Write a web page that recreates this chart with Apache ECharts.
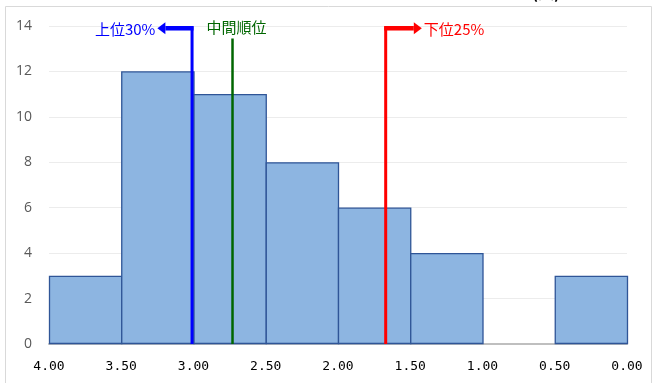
<!DOCTYPE html>
<html><head><meta charset="utf-8">
<script src="https://cdn.jsdelivr.net/npm/echarts@6/dist/echarts.min.js"></script>
<style>html,body{margin:0;padding:0;background:#fff}#c{width:663px;height:383px}</style>
</head><body><div id="c"></div>
<script>
// Histogram bins (score ranges) and counts
var binStart = [4.0, 3.5, 3.0, 2.5, 2.0, 1.5, 1.0, 0.5];
var binEnd   = [3.5, 3.0, 2.5, 2.0, 1.5, 1.0, 0.5, 0.0];
var counts   = [3, 12, 11, 8, 6, 4, 0, 3];
var xTicks = [4.0, 3.5, 3.0, 2.5, 2.0, 1.5, 1.0, 0.5, 0.0];
var yTicks = [0, 2, 4, 6, 8, 10, 12, 14];
// Reference markers: [name, x position, top y, arrow end x (or null)]
var markerNames = ['上位30%', '中間順位', '下位25%'];
var markerX     = [3.01, 2.73, 1.67];
var markerTop   = [13.9, 13.45, 13.9];
var markerArrow = [3.25, null, 1.42];
var markerColor = ['#0000ff', '#006600', '#ff0000'];

var chart = echarts.init(document.getElementById('c'), null, {renderer: 'canvas'});
var barData = binStart.map(function (s, i) { return [s, binEnd[i], counts[i]]; });
var markData = markerX.map(function (x, i) { return [x, markerTop[i], markerArrow[i] == null ? x : markerArrow[i], i]; });

chart.setOption({
  animation: false,
  graphic: [
    {type: 'rect', shape: {x: 5.5, y: 6.5, width: 646, height: 420}, style: {fill: 'none', stroke: '#d9d9d9', lineWidth: 1}, z: -1},
    {type: 'text', left: 532, top: -15, style: {text: '(人)', font: 'bold 16px "Noto Sans CJK JP"', fill: '#000'}}
  ],
  grid: {left: 49, right: 36, top: 26, bottom: 39},
  xAxis: {
    type: 'value', min: 0, max: 4, interval: 0.5, inverse: true,
    axisLine: {show: true, onZero: false, lineStyle: {color: '#bfbfbf', width: 2}},
    axisTick: {show: false},
    splitLine: {show: false},
    axisLabel: {
      margin: 16, color: '#000', fontFamily: '"DejaVu Sans Mono"', fontSize: 13,
      formatter: function (v) { return v.toFixed(2); }
    }
  },
  yAxis: {
    type: 'value', min: 0, max: 14, interval: 2,
    axisLine: {show: false}, axisTick: {show: false},
    splitLine: {lineStyle: {color: '#ececec', width: 1}},
    axisLabel: {margin: 17, color: '#595959', fontFamily: '"Open Sans"', fontSize: 14}
  },
  series: [
    {
      type: 'custom', data: barData, z: 2,
      renderItem: function (params, api) {
        if (api.value(2) <= 0) return null;
        var p0 = api.coord([api.value(0), 0]);
        var p1 = api.coord([api.value(1), api.value(2)]);
        var x = Math.min(p0[0], p1[0]), w = Math.abs(p1[0] - p0[0]);
        return {type: 'rect', shape: {x: x + 0.5, y: p1[1] + 0.5, width: w, height: p0[1] - p1[1] - 1},
          style: {fill: '#8db5e1', stroke: '#2f5597', lineWidth: 1.3}};
      }
    },
    {
      type: 'custom', data: markData, z: 5,
      renderItem: function (params, api) {
        var i = api.value(3);
        var col = markerColor[i];
        var b = api.coord([api.value(0), 0]);
        var t = api.coord([api.value(0), api.value(1)]);
        var e = api.coord([api.value(2), api.value(1)]);
        var children = [];
        if (markerArrow[i] == null) {
          children.push({type: 'line', shape: {x1: b[0], y1: b[1], x2: t[0], y2: t[1]}, style: {stroke: col, lineWidth: 2.5}});
          children.push({type: 'text', style: {x: b[0] + 4, y: t[1] - 4, text: markerNames[i], fill: col,
            font: '15px "Noto Sans CJK JP"', textAlign: 'center', textVerticalAlign: 'bottom'}});
        } else {
          var dir = e[0] < t[0] ? -1 : 1;
          var tip = e[0];
          var headLen = 8;
          children.push({type: 'line', shape: {x1: b[0], y1: b[1], x2: t[0], y2: t[1] - 2}, style: {stroke: col, lineWidth: 3}});
          children.push({type: 'line', shape: {x1: t[0] + (dir < 0 ? 1.5 : -1.5), y1: t[1], x2: tip - dir * headLen, y2: t[1]}, style: {stroke: col, lineWidth: 4.5}});
          children.push({type: 'polygon', shape: {points: [[tip, t[1]], [tip - dir * headLen, t[1] - 6], [tip - dir * headLen, t[1] + 6]]}, style: {fill: col}});
          children.push({type: 'text', style: {x: tip + dir * 2, y: t[1] + 1, text: markerNames[i], fill: col,
            font: '15px "Noto Sans CJK JP"', textAlign: dir < 0 ? 'right' : 'left', textVerticalAlign: 'middle'}});
        }
        return {type: 'group', children: children};
      }
    }
  ]
});
</script></body></html>
